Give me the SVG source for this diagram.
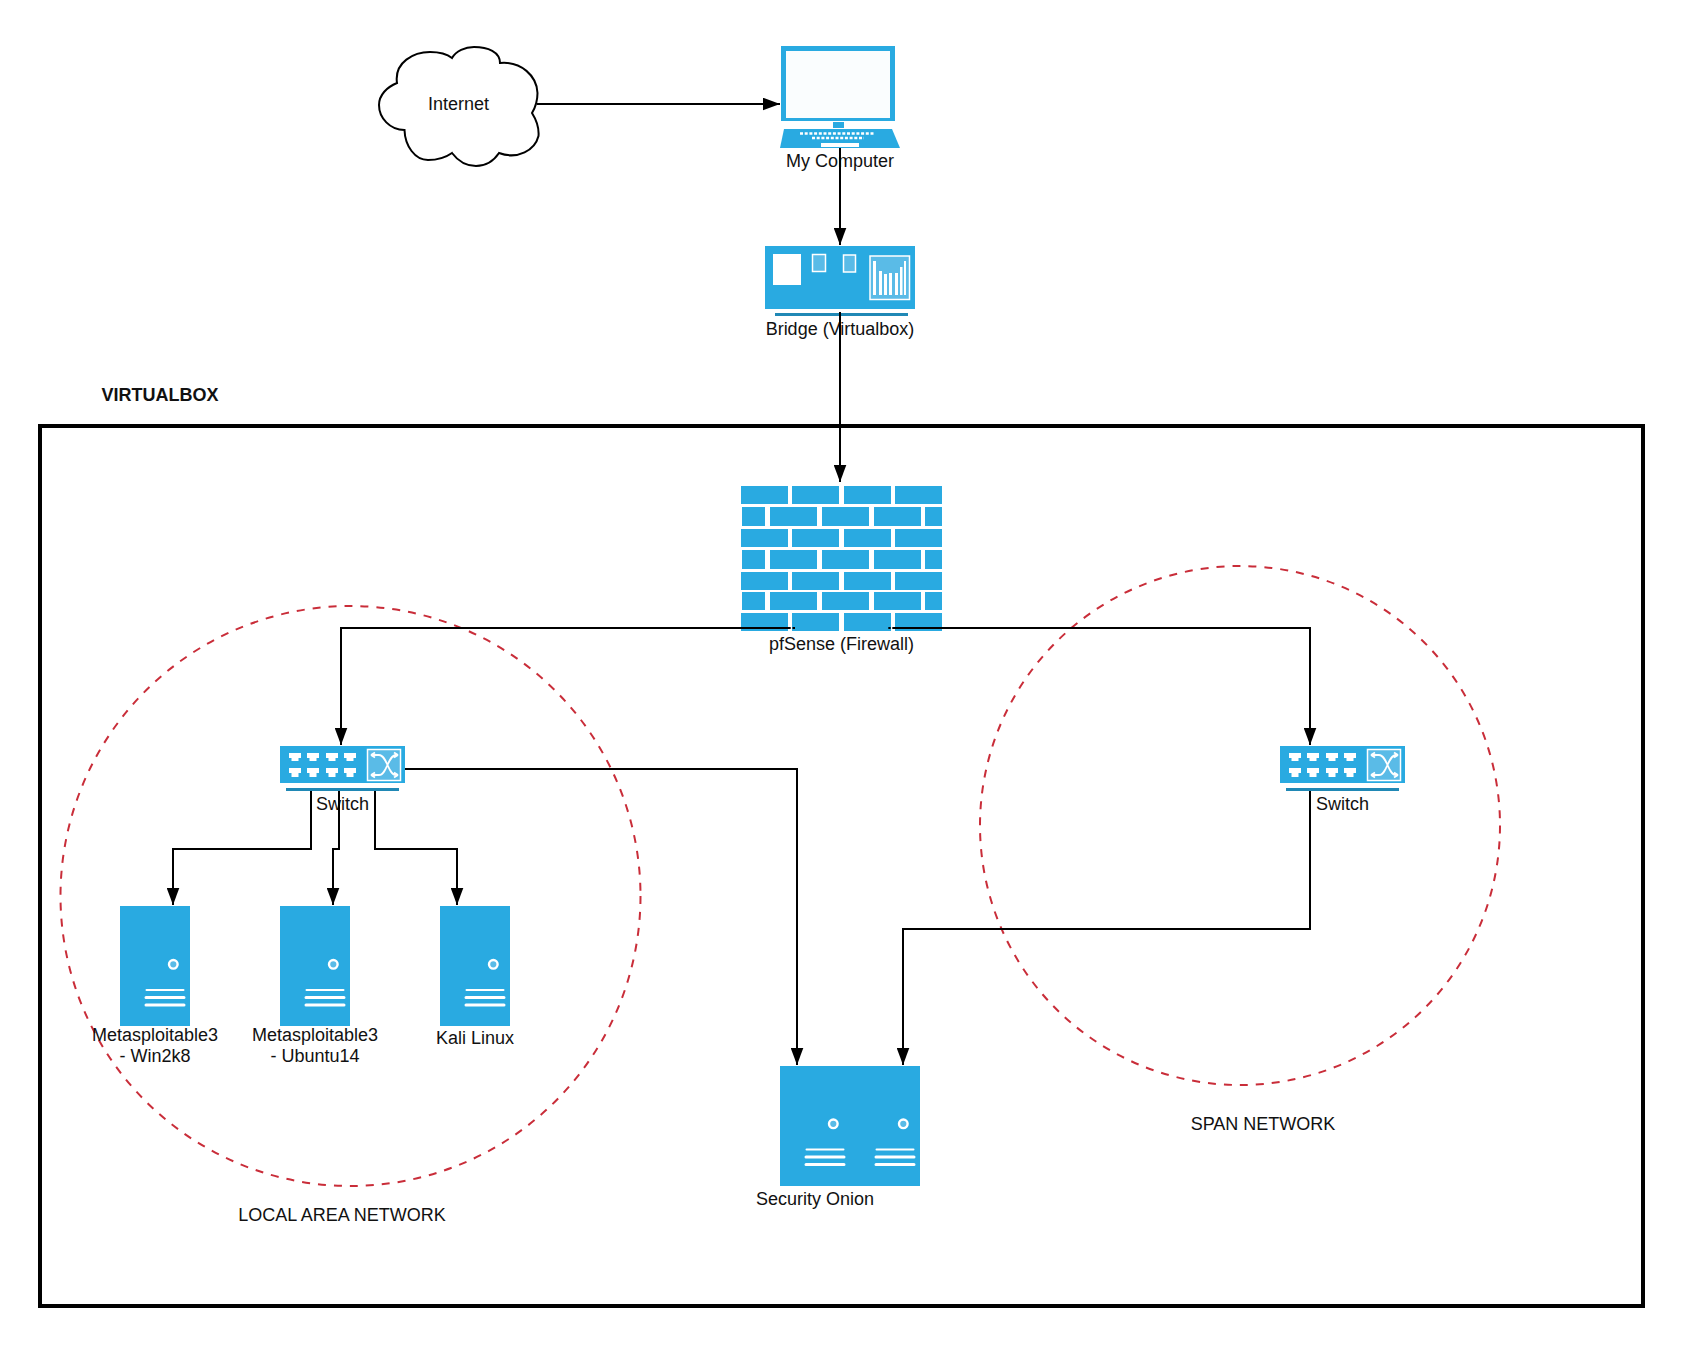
<svg xmlns="http://www.w3.org/2000/svg" width="1683" height="1346" viewBox="0 0 1683 1346">
<style>
text{font-family:"Liberation Sans",Arial,sans-serif;font-size:18px;fill:#111;text-anchor:middle}
.b{fill:#29aae1}
.w{fill:#fff}
.c{fill:none;stroke:#000;stroke-width:2}
.d{fill:none;stroke:#c92d39;stroke-width:2;stroke-dasharray:8 8}
.p{fill:#5abbe7;stroke:#fff;stroke-width:1.5}
.l{fill:none;stroke:#fff;stroke-width:3;stroke-linecap:round}
</style>
<defs>
<marker id="a" markerUnits="userSpaceOnUse" markerWidth="18" markerHeight="13" refX="17.500" refY="6.500" orient="auto"><path d="M0 0L17.500 6.500L0 13Z" fill="#000"/></marker>
<g id="srv"><circle cx="53.300" cy="58.300" r="4.300" fill="#5abbe7" stroke="#fff" stroke-width="2.400"/><path class="l" style="stroke-width:2" d="M26.500 84H63.500"/><path class="l" d="M26 91.500H64M26 99H64"/></g>
<g id="sw"><rect class="b" width="125" height="37"/><rect x="6" y="42" width="113" height="3" fill="#2088b5"/>
<path class="w" d="M9 7H21V12H18.500V15H11.500V12H9ZM27 7H39V12H36.500V15H29.500V12H27ZM46 7H58V12H55.500V15H48.500V12H46ZM64 7H76V12H73.500V15H66.500V12H64ZM9 22H21V27H18.500V31H11.500V27H9ZM27 22H39V27H36.500V31H29.500V27H27ZM46 22H58V27H55.500V31H48.500V27H46ZM64 22H76V27H73.500V31H66.500V27H64Z"/>
<rect class="p" x="87.500" y="3.500" width="33" height="31"/>
<path d="M91 9H99C107 9 108 29 116 29H118M118 9H116C108 9 107 29 99 29H91M91 9L95 6.500M91 9L95 11.500M118 9L114 6.500M118 9L114 11.500M91 29L95 26.500M91 29L95 31.500M118 29L114 26.500M118 29L114 31.500" fill="none" stroke="#fff" stroke-width="1.800"/></g>
</defs>
<rect width="1683" height="1346" fill="#fff"/>
<rect x="40" y="426" width="1603" height="880" fill="none" stroke="#000" stroke-width="4"/>
<ellipse class="d" cx="350.500" cy="896" rx="290" ry="290"/>
<ellipse class="d" cx="1240" cy="825.500" rx="260" ry="259.500"/>

<g id="internet"><path d="M397 83C394 62 414 52 430 52C440 52 447 54 452 58C456 51 465 47 474 47C488 47 500 52 500 63C521 61 537 76 537.500 93C537.500 101 535 108 532 113C537 121 539 130 538.500 136C535 150 518 160 499 153C493 162 484 166 476 166C466 166 458 161 452 153C445 158 437 160 428 160C415 160 405 146 404.500 130C390 130 379 118 379 105C379 95 387 87 397 83Z" fill="#fff" stroke="#000" stroke-width="2"/><text x="458.500" y="110">Internet</text></g>

<g id="computer"><rect x="781" y="46" width="114" height="75" class="b"/><rect x="786" y="51" width="104" height="67" fill="#fafdfe"/><rect x="833" y="122" width="11" height="6" class="b"/><path d="M784 129H892L900 148H780Z" class="b"/><path d="M800 133.500H875M812 138H864" stroke="#fff" stroke-width="2.500" stroke-dasharray="3 1.700" fill="none"/><rect x="821" y="143" width="38" height="4" class="w"/><text x="840" y="167">My Computer</text></g>

<g id="bridge"><rect x="765" y="246" width="150" height="63" class="b"/><rect x="775" y="313" width="133" height="3" fill="#2088b5"/><rect x="773" y="254" width="28" height="31" class="w"/><rect class="p" x="812.500" y="254.500" width="13" height="17"/><rect class="p" x="843.500" y="255" width="12" height="17"/><rect class="p" x="870" y="256" width="39.500" height="43.500"/><path d="M873 261h3v34h-3zM879 271h3v24h-3zM884 274h3v21h-3zM889 273h3v22h-3zM895 273h3v22h-3zM900 267h2.500v28h-2.500zM904 261h2v34h-2z" class="w"/><text x="840" y="335">Bridge (Virtualbox)</text></g>

<g id="firewall">
<path class="b" d="M741 486h47v18h-47zM792 486h47v18h-47zM844 486h47v18h-47zM895 486h47v18h-47zM742 507h23v19h-23zM770 507h47v19h-47zM822 507h47v19h-47zM874 507h47v19h-47zM925 507h17v19h-17zM741 529h47v18h-47zM792 529h47v18h-47zM844 529h47v18h-47zM895 529h47v18h-47zM742 550h23v19h-23zM770 550h47v19h-47zM822 550h47v19h-47zM874 550h47v19h-47zM925 550h17v19h-17zM741 572h47v18h-47zM792 572h47v18h-47zM844 572h47v18h-47zM895 572h47v18h-47zM742 592h23v18h-23zM770 592h47v18h-47zM822 592h47v18h-47zM874 592h47v18h-47zM925 592h17v18h-17zM741 613h47v18h-47zM792 613h47v18h-47zM844 613h47v18h-47zM895 613h47v18h-47z"/>
<text x="841.500" y="650">pfSense (Firewall)</text></g>

<g id="switch-lan"><use href="#sw" x="280" y="746"/><text x="342.500" y="810">Switch</text></g>
<g id="switch-span"><use href="#sw" x="1280" y="746"/><text x="1342.500" y="810">Switch</text></g>

<g id="win2k8"><rect x="120" y="906" width="70" height="120" class="b"/><use href="#srv" x="120" y="906"/><text x="155" y="1041">Metasploitable3</text><text x="155" y="1062">- Win2k8</text></g>
<g id="ubuntu14"><rect x="280" y="906" width="70" height="120" class="b"/><use href="#srv" x="280" y="906"/><text x="315" y="1041">Metasploitable3</text><text x="315" y="1062">- Ubuntu14</text></g>
<g id="kali"><rect x="440" y="906" width="70" height="120" class="b"/><use href="#srv" x="440" y="906"/><text x="475" y="1044">Kali Linux</text></g>
<g id="security-onion"><rect x="780" y="1066" width="140" height="120" class="b"/><use href="#srv" x="780" y="1065.500"/><use href="#srv" x="850" y="1065.500"/><text x="815" y="1205">Security Onion</text></g>

<g id="labels">
<text x="160" y="401" style="font-weight:700">VIRTUALBOX</text>
<text x="342" y="1221">LOCAL AREA NETWORK</text>
<text x="1263" y="1130">SPAN NETWORK</text>
</g>

<g id="connectors">
<path class="c" marker-end="url(#a)" d="M537 104H780"/>
<path class="c" marker-end="url(#a)" d="M840 148V245"/>
<path class="c" marker-end="url(#a)" d="M840 312V482"/>
<path class="c" d="M795 628H792.500"/>
<path class="c" marker-end="url(#a)" d="M790.700 628H341V745"/>
<path class="c" d="M888.300 628H890.700"/>
<path class="c" marker-end="url(#a)" d="M892.300 628H1310V745"/>
<path class="c" marker-end="url(#a)" d="M311 791V849H173V905"/>
<path class="c" marker-end="url(#a)" d="M339 791V849H333V905"/>
<path class="c" marker-end="url(#a)" d="M375 791V849H457V905"/>
<path class="c" marker-end="url(#a)" d="M405 769H797V1065"/>
<path class="c" marker-end="url(#a)" d="M1310 791V929H903V1065"/>
</g>
</svg>
